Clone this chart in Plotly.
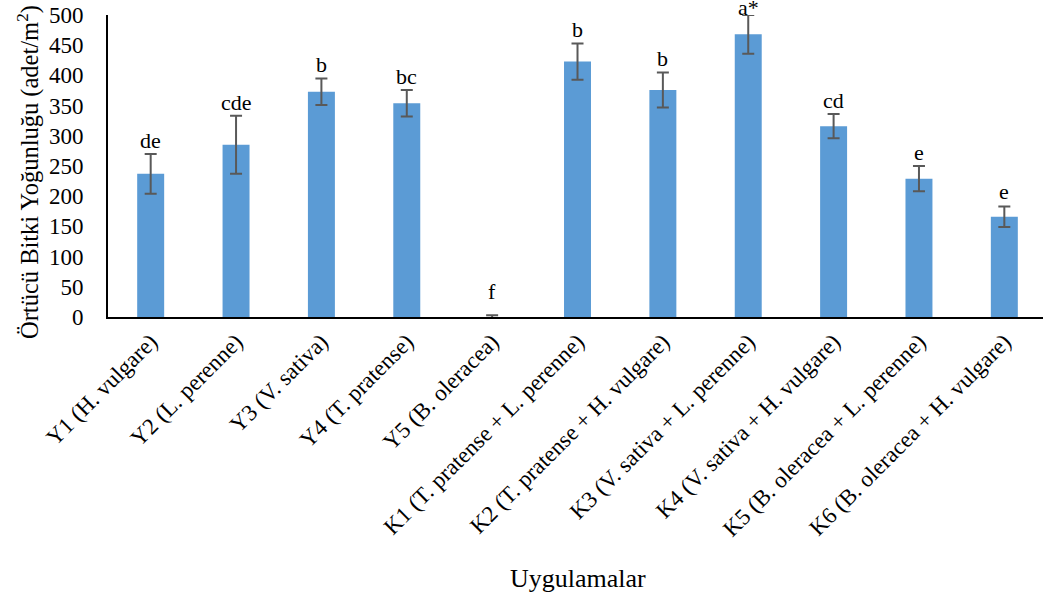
import plotly.graph_objects as go

# Treatments and mean cover-crop plant density (adet/m2) with standard errors
categories = [
    "Y1 (H. vulgare)",
    "Y2 (L. perenne)",
    "Y3 (V. sativa)",
    "Y4 (T. pratense)",
    "Y5 (B. oleracea)",
    "K1 (T. pratense + L. perenne)",
    "K2 (T. pratense + H. vulgare)",
    "K3 (V. sativa + L. perenne)",
    "K4 (V. sativa + H. vulgare)",
    "K5 (B. oleracea + L. perenne)",
    "K6 (B. oleracea + H. vulgare)",
]
density = [237, 285, 373, 354, 0, 423, 376, 468, 316, 229, 166]
std_err = [33, 48, 22, 22, 3, 30, 29, 32, 20, 21, 17]
groups = ["de", "cde", "b", "bc", "f", "b", "b", "a*", "cd", "e", "e"]

y_ticks = [0, 50, 100, 150, 200, 250, 300, 350, 400, 450, 500]
Y_MAX = 500

FONT = "Liberation Serif, Times New Roman, serif"
BAR_COLOR = "#5B9BD5"
ERR_COLOR = "#595959"

fig = go.Figure()
fig.add_trace(
    go.Bar(
        x=categories,
        y=density,
        marker=dict(color=BAR_COLOR, line=dict(width=0)),
        width=0.316,
        error_y=dict(
            type="data",
            array=std_err,
            visible=True,
            color=ERR_COLOR,
            thickness=2,
            width=6,
        ),
        hoverinfo="x+y",
    )
)

# Significance letters: sit just above the bar, or above the error bar when it is taller
for cat, val, err, grp in zip(categories, density, std_err, groups):
    label_y = min(val + max(30, err + 10), Y_MAX)
    fig.add_annotation(
        x=cat,
        y=label_y,
        xref="x",
        yref="y",
        text=grp,
        showarrow=False,
        yanchor="bottom",
        xanchor="center",
        yshift=-7,
        font=dict(family=FONT, size=22, color="black"),
    )

# Axis titles
fig.add_annotation(
    x=0,
    y=0.5,
    xref="paper",
    yref="paper",
    text="Örtücü Bitki Yoğunluğu (adet/m<sup>2</sup>)",
    textangle=-90,
    showarrow=False,
    xanchor="center",
    yanchor="middle",
    xshift=-80,
    yshift=-6,
    font=dict(family=FONT, size=24.5, color="black"),
)
fig.add_annotation(
    x=5,
    y=0,
    xref="x",
    yref="paper",
    text="Uygulamalar",
    showarrow=False,
    xanchor="center",
    yanchor="middle",
    yshift=-261,
    font=dict(family=FONT, size=26, color="black"),
)

fig.update_layout(
    width=1043,
    height=599,
    margin=dict(l=108, r=0, t=15, b=282),
    plot_bgcolor="white",
    paper_bgcolor="white",
    showlegend=False,
    font=dict(family=FONT, color="black"),
    xaxis=dict(
        type="category",
        range=[-0.5, 10.453],
        showline=True,
        linecolor="black",
        linewidth=2,
        showgrid=False,
        ticks="",
        tickangle=-45,
        tickfont=dict(family=FONT, size=23, color="black"),
        automargin=False,
    ),
    yaxis=dict(
        range=[0, Y_MAX],
        tickvals=y_ticks,
        showline=True,
        linecolor="black",
        linewidth=2,
        showgrid=False,
        zeroline=False,
        ticks="",
        ticklabelstandoff=18,
        tickfont=dict(family=FONT, size=23, color="black"),
        automargin=False,
    ),
)

fig.write_html("out.html")
